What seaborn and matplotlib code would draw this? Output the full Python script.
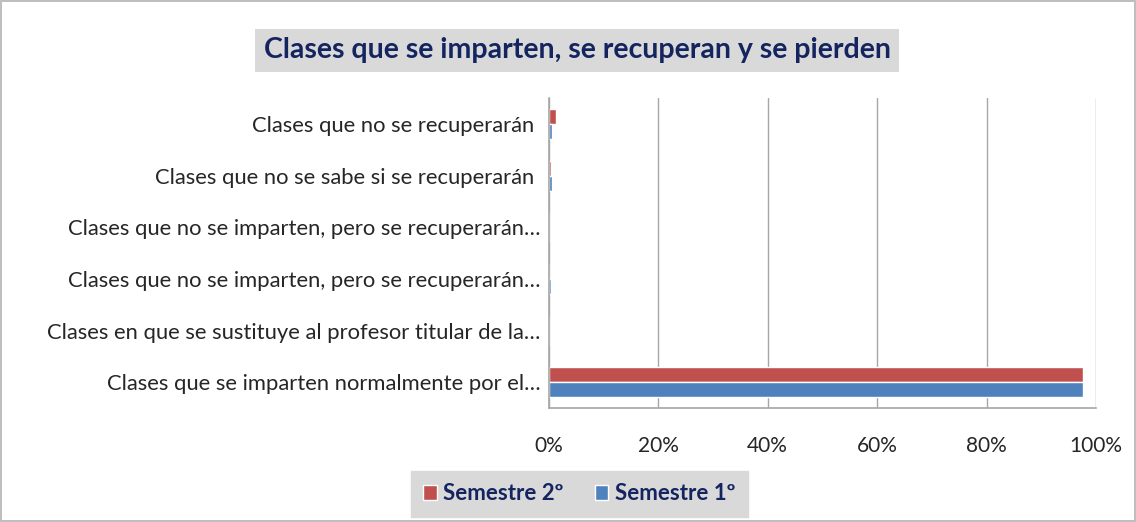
import pandas as pd
import matplotlib.pyplot as plt
import seaborn as sns
from matplotlib.ticker import PercentFormatter

# category keys (top to bottom) and the labels shown on the chart
categorias = ['no_recuperaran', 'no_sabe', 'no_imparten_a', 'no_imparten_b', 'sustituye', 'normal']
etiquetas = [
    'Clases que no se recuperarán ',
    'Clases que no se sabe si se recuperarán ',
    'Clases que no se imparten, pero se recuperarán…',
    'Clases que no se imparten, pero se recuperarán…',
    'Clases en que se sustituye al profesor titular de la…',
    'Clases que se imparten normalmente por el…',
]
semestre_2 = [1.3, 0.5, 0.0, 0.0, 0.0, 97.5]
semestre_1 = [0.6, 0.6, 0.0, 0.5, 0.0, 97.5]
series = ['Semestre 2º', 'Semestre 1º']
colores = ['#C0504D', '#4F81BD']

df = pd.DataFrame({
    'categoria': categorias * 2,
    'valor': semestre_2 + semestre_1,
    'serie': [series[0]] * len(categorias) + [series[1]] * len(categorias),
})

sns.set_style('white')
plt.rcParams['font.family'] = ['Lato', 'DejaVu Sans']

fig = plt.figure(figsize=(11.36, 5.22), dpi=100)
fig.patch.set_edgecolor('#BFBFBF')
fig.patch.set_linewidth(1.5)
ax = fig.add_axes([0.483, 0.218, 0.482, 0.594])

sns.barplot(data=df, x='valor', y='categoria', hue='serie', hue_order=series,
            palette=colores, order=categorias, orient='h', width=0.58,
            saturation=1, ax=ax)

ax.set_xlim(0, 100)
ax.xaxis.set_major_locator(plt.MultipleLocator(20))
ax.xaxis.set_major_formatter(PercentFormatter(decimals=0))
ax.set_yticks(range(len(etiquetas)))
ax.set_yticklabels(etiquetas)
ax.set_xlabel('')
ax.set_ylabel('')
ax.tick_params(axis='y', length=0, pad=6, labelsize=15.8, labelcolor='#262626')
ax.tick_params(axis='x', length=0, pad=20, labelsize=15, labelcolor='#262626')
ax.grid(axis='x', color='#A6A6A6', linewidth=1)
ax.set_axisbelow(True)
for s in ['top', 'right']:
    ax.spines[s].set_visible(False)
for s in ['left', 'bottom']:
    ax.spines[s].set_color('#A6A6A6')
    ax.spines[s].set_linewidth(1.2)

fig.text(0.508, 0.904, 'Clases que se imparten, se recuperan y se pierden',
         ha='center', va='center', fontsize=20.5, fontweight='bold', color='#14245F',
         bbox=dict(boxstyle='square,pad=0.3', facecolor='#D9D9D9', edgecolor='none'))

ax.legend_.remove()
handles, labels = ax.get_legend_handles_labels()
leg = fig.legend(handles, labels, loc='center', bbox_to_anchor=(0.51, 0.054), ncol=2,
                 frameon=True, fancybox=False, facecolor='#D9D9D9', edgecolor='#D9D9D9',
                 handlelength=0.6, handleheight=0.6, handletextpad=0.3, columnspacing=1.4,
                 borderpad=0.55, prop={'size': 16, 'weight': 'bold'})
leg.get_frame().set_alpha(1)
for t in leg.get_texts():
    t.set_color('#14245F')

fig.savefig('out.png', dpi=100)
